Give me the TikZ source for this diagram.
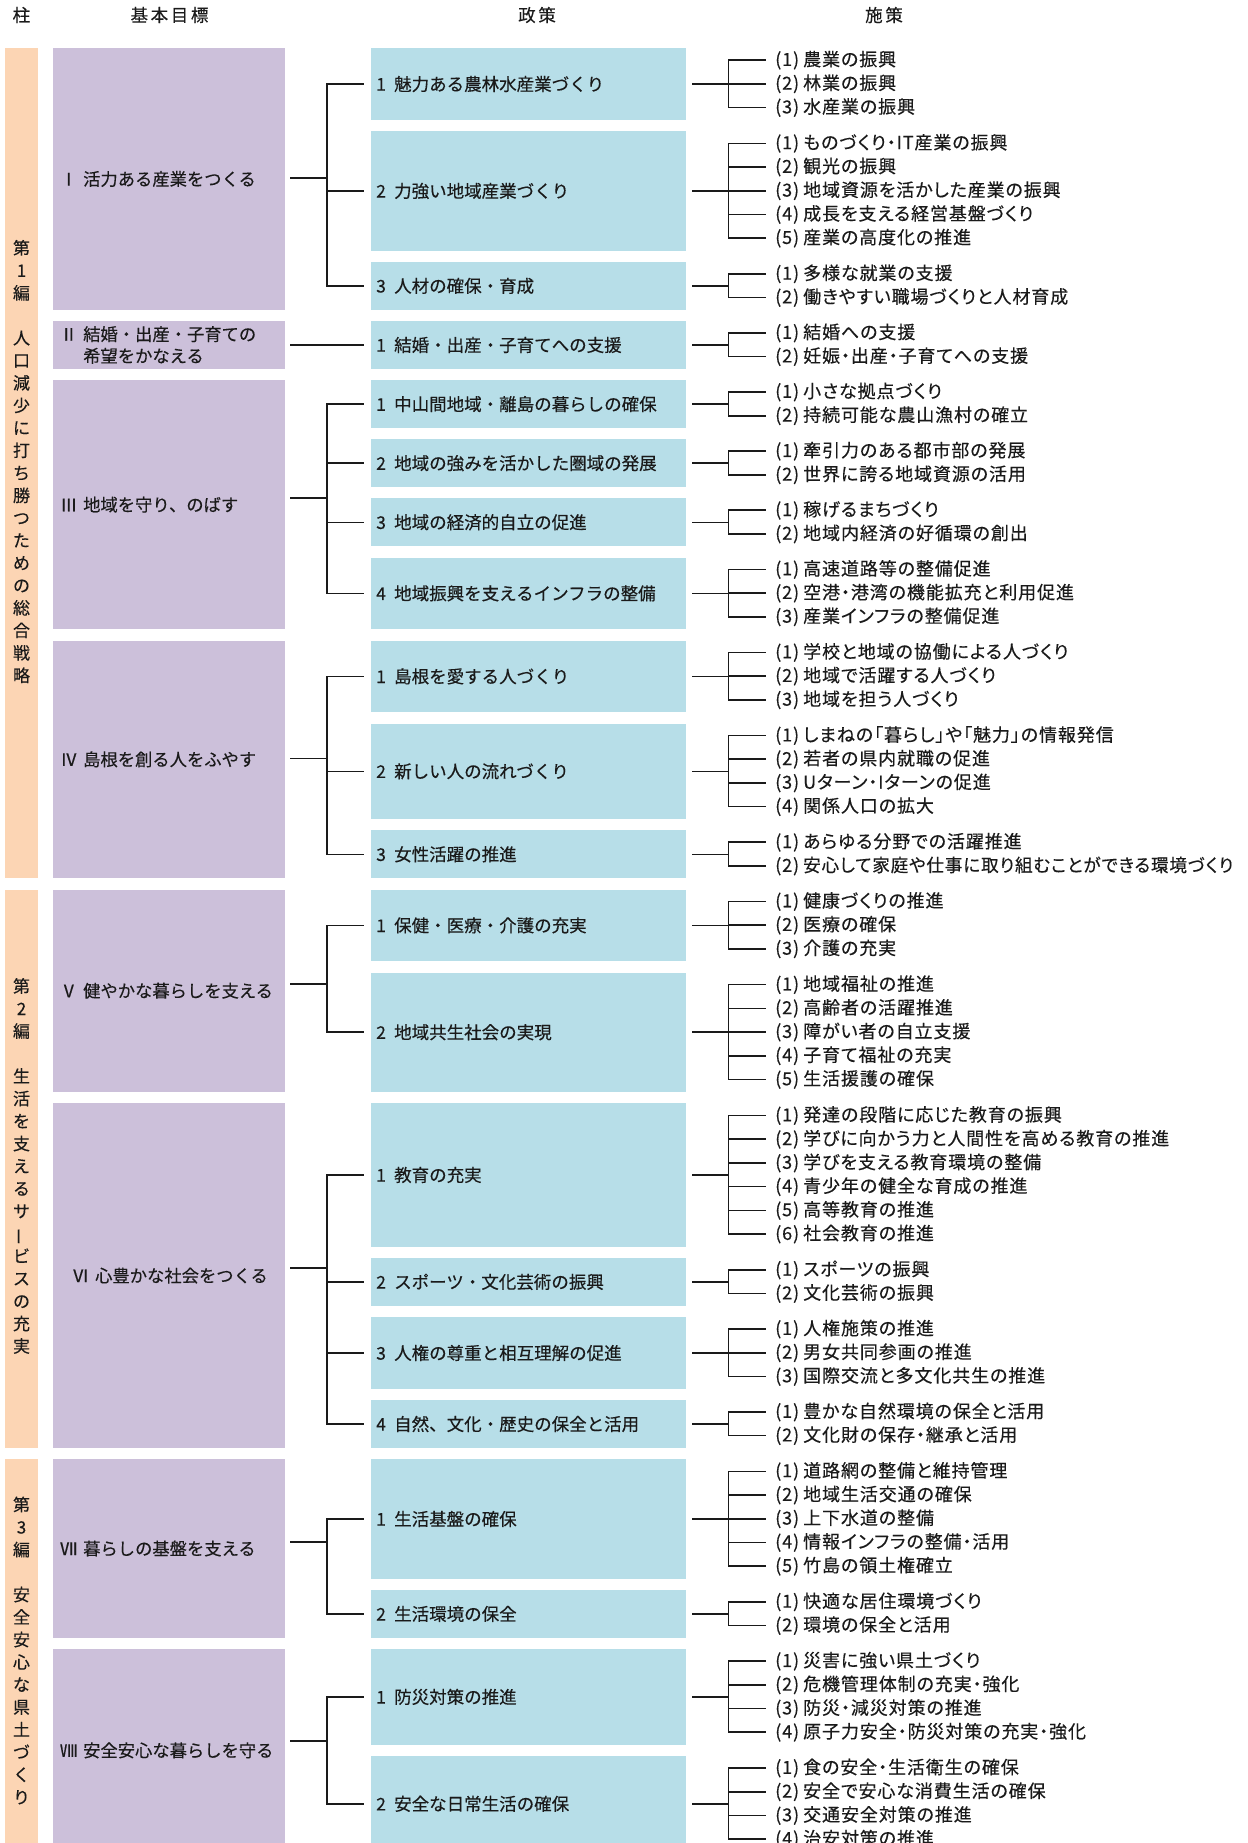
\documentclass[tikz,border=0pt]{standalone}
\usepackage{fontspec}
\usepackage{graphicx}
\defaultfontfeatures{FakeBold=0.3}
\setmainfont{Noto Sans CJK JP}
\newfontfamily\polfont{Noto Sans CJK JP}
\newfontfamily\itemfont{Noto Sans CJK JP}[RawFeature=+palt,LetterSpace=5]
\newfontfamily\headfont{Noto Sans CJK JP}[LetterSpace=15]
\definecolor{pillc}{HTML}{FCD5B4}
\definecolor{goalc}{HTML}{CCC0DA}
\definecolor{polc}{HTML}{B7DEE8}
\definecolor{txt}{HTML}{1A1A1A}
\tikzset{
 pillbox/.style={fill=pillc, draw=none, inner sep=0pt, minimum width=33pt, anchor=north west},
 goalbox/.style={fill=goalc, draw=none, inner xsep=7pt, inner ysep=0pt, text width=218pt, align=left, anchor=north west, font=\fontsize{17.3}{21.7}\selectfont, text=txt},
 polbox/.style={fill=polc, draw=none, inner xsep=5pt, inner ysep=0pt, text width=305pt, align=left, anchor=north west, font=\polfont\fontsize{17.5}{21}\selectfont, text=txt},
 itemtext/.style={inner sep=0pt, anchor=west, font=\itemfont\fontsize{18}{21}\selectfont, text=txt},
 pilltext/.style={inner sep=0pt, align=center, font=\fontsize{17}{22.5}\selectfont, text=txt},
 headtext/.style={inner sep=0pt, font=\headfont\fontsize{17.5}{21}\selectfont, text=txt},
 conn/.style={draw=txt, line width=1.6pt, line cap=rect},
}
% policy box with its measures: id, top, n, digit, text, items
\newcommand\pol[6]{%
 \pgfmathsetmacro\bh{#3*23.9}%
 \node[polbox, minimum height=\bh pt] (p#1) at (371,#2) {\makebox[18pt][l]{#4}#5};
 \path (p#1.east) ++(42,0) coordinate (pj#1);
 \foreach \itm [count=\idx] in {#6} {
  \pgfmathsetmacro\yy{#2+\bh/2+(\idx-(#3+1)/2)*23.7}
  \node[itemtext] (p#1-\idx) at (775,\yy) {\makebox[28pt][l]{(\idx)}\itm};
  \draw[conn] (pj#1 |- p#1-\idx.west) -- ([xshift=-10pt]p#1-\idx.west);
 }
 \draw[conn] ([xshift=6pt]p#1.east) -- (pj#1);
 \draw[conn] (pj#1 |- p#1-1.west) -- (pj#1 |- p#1-#3.west);
}
% goal box: id, top, bottom, connector y, text, first, last, list
\newcommand\goal[8]{%
 \pgfmathsetmacro\gh{#3-#2}%
 \node[goalbox, minimum height=\gh pt] (g#1) at (53,#2) {#5};
 \coordinate (gj#1) at (326.7,#4);
 \coordinate (gs#1) at ([xshift=5pt]g#1.east);
 \draw[conn] (gs#1 |- gj#1) -- (gj#1);
 \foreach \k in {#8} {\draw[conn] (gj#1 |- p\k.west) -- ([xshift=-8pt]p\k.west);}
 \draw[conn] (gj#1 |- p#6.west) -- (gj#1 |- p#7.west);
}
\begin{document}
\begin{tikzpicture}[x=1pt,y=-1pt]
\useasboundingbox (0,0) rectangle (1247,1843);
\fill[white] (0,0) rectangle (1247,1843);
% headers
\node[headtext] (h1) at (21.4,15) {柱};
\node[headtext] (h2) at (169.5,15) {基本目標};
\node[headtext] (h3) at (537,15) {政策};
\node[headtext] (h4) at (884,15) {施策};
% pillars
\node[pillbox, minimum height=830pt] (c1) at (5,48) {};
\node[pillbox, minimum height=558.4pt] (c2) at (5,889.3) {};
\node[pillbox, minimum height=392.4pt] (c3) at (5,1459) {};
\node[pilltext] (c1t) at (21.5,461.5) {第\\1\\編\\　\\人\\口\\減\\少\\に\\打\\ち\\勝\\つ\\た\\め\\の\\総\\合\\戦\\略};
\node[pilltext] (c2t) at (21.5,1166) {第\\2\\編\\　\\生\\活\\を\\支\\え\\る\\サ\\\rotatebox[origin=c]{90}{ー}\\ビ\\ス\\の\\充\\実};
\node[pilltext] (c3t) at (21.5,1650.5) {第\\3\\編\\　\\安\\全\\安\\心\\な\\県\\土\\づ\\く\\り};
% policies and measures
\pol{0}{48.0}{3}{1}{魅力ある農林水産業づくり}{農業の振興,林業の振興,水産業の振興}
\pol{1}{131.0}{5}{2}{力強い地域産業づくり}{ものづくり・IT産業の振興,観光の振興,地域資源を活かした産業の振興,成長を支える経営基盤づくり,産業の高度化の推進}
\pol{2}{261.8}{2}{3}{人材の確保・育成}{多様な就業の支援,働きやすい職場づくりと人材育成}
\pol{3}{320.9}{2}{1}{結婚・出産・子育てへの支援}{結婚への支援,妊娠・出産・子育てへの支援}
\pol{4}{380.0}{2}{1}{中山間地域・離島の暮らしの確保}{小さな拠点づくり,持続可能な農山漁村の確立}
\pol{5}{439.1}{2}{2}{地域の強みを活かした圏域の発展}{牽引力のある都市部の発展,世界に誇る地域資源の活用}
\pol{6}{498.2}{2}{3}{地域の経済的自立の促進}{稼げるまちづくり,地域内経済の好循環の創出}
\pol{7}{557.3}{3}{4}{地域振興を支えるインフラの整備}{高速道路等の整備促進,空港・港湾の機能拡充と利用促進,産業インフラの整備促進}
\pol{8}{640.3}{3}{1}{島根を愛する人づくり}{学校と地域の協働による人づくり,地域で活躍する人づくり,地域を担う人づくり}
\pol{9}{723.3}{4}{2}{新しい人の流れづくり}{しまねの「暮らし」や「魅力」の情報発信,若者の県内就職の促進,Uターン・Iターンの促進,関係人口の拡大}
\pol{10}{830.2}{2}{3}{女性活躍の推進}{あらゆる分野での活躍推進,\scalebox{0.975}[1]{安心して家庭や仕事に取り組むことができる環境づくり}}
\pol{11}{889.3}{3}{1}{保健・医療・介護の充実}{健康づくりの推進,医療の確保,介護の充実}
\pol{12}{972.3}{5}{2}{地域共生社会の実現}{地域福祉の推進,高齢者の活躍推進,障がい者の自立支援,子育て福祉の充実,生活援護の確保}
\pol{13}{1103.1}{6}{1}{教育の充実}{発達の段階に応じた教育の振興,学びに向かう力と人間性を高める教育の推進,学びを支える教育環境の整備,青少年の健全な育成の推進,高等教育の推進,社会教育の推進}
\pol{14}{1257.8}{2}{2}{スポーツ・文化芸術の振興}{スポーツの振興,文化芸術の振興}
\pol{15}{1316.9}{3}{3}{人権の尊重と相互理解の促進}{人権施策の推進,男女共同参画の推進,国際交流と多文化共生の推進}
\pol{16}{1399.9}{2}{4}{自然、文化・歴史の保全と活用}{豊かな自然環境の保全と活用,文化財の保存・継承と活用}
\pol{17}{1459.0}{5}{1}{生活基盤の確保}{道路網の整備と維持管理,地域生活交通の確保,上下水道の整備,情報インフラの整備・活用,竹島の領土権確立}
\pol{18}{1589.8}{2}{2}{生活環境の保全}{快適な居住環境づくり,環境の保全と活用}
\pol{19}{1648.9}{4}{1}{防災対策の推進}{災害に強い県土づくり,危機管理体制の充実・強化,防災・減災対策の推進,原子力安全・防災対策の充実・強化}
\pol{20}{1755.8}{4}{2}{安全な日常生活の確保}{食の安全・生活衛生の確保,安全で安心な消費生活の確保,交通安全対策の推進,治安対策の推進}
% goals
\goal{1}{48}{309.6}{178.3}{\makebox[23pt][l]{Ⅰ}活力ある産業をつくる}{0}{2}{0,1,2}
\goal{2}{320.9}{368.7}{344.8}{\makebox[23pt][l]{Ⅱ}結婚・出産・子育ての\\\hspace*{23pt}希望をかなえる}{3}{3}{3}
\goal{3}{380.0}{629.0}{498}{\makebox[23pt][l]{Ⅲ}地域を守り、のばす}{4}{7}{4,5,6,7}
\goal{4}{640.3}{878.0}{758.3}{\makebox[23pt][l]{Ⅳ}島根を創る人をふやす}{8}{10}{8,9,10}
\goal{5}{889.3}{1091.8}{983.7}{\makebox[23pt][l]{Ⅴ}健やかな暮らしを支える}{11}{12}{11,12}
\goal{6}{1103.1}{1447.7}{1268}{\hspace*{12pt}\makebox[23pt][l]{Ⅵ}心豊かな社会をつくる}{13}{16}{13,14,15,16}
\goal{7}{1459.0}{1637.6}{1542}{\makebox[23pt][l]{Ⅶ}暮らしの基盤を支える}{17}{18}{17,18}
\goal{8}{1648.9}{1851.4}{1741}{\makebox[23pt][l]{Ⅷ}安全安心な暮らしを守る}{19}{20}{19,20}
\end{tikzpicture}
\end{document}
